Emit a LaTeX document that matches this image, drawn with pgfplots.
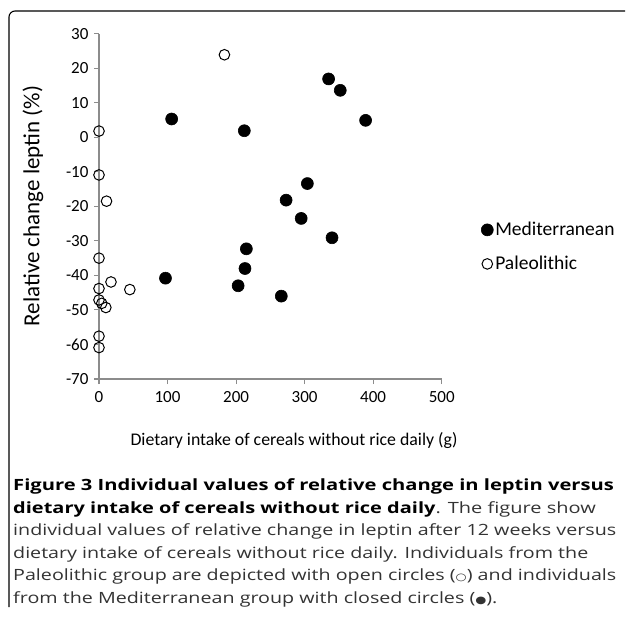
\documentclass[border=0pt]{standalone}
\usepackage{pgfplots}
\pgfplotsset{compat=1.18}
\usepackage{fontspec}
\setmainfont{Carlito}
\newfontfamily\capfont{Open Sans}
\newcommand{\cs}[2][1.27]{\scalebox{#1}[1]{#2}}
\begin{document}
\begin{tikzpicture}[x=1pt,y=1pt]
\path[use as bounding box] (0,0) rectangle (625,-627);
\draw[line width=1.1pt] (9,-607) -- (9,-17) arc[start angle=180,end angle=90,radius=6] -- (625,-11);
\begin{axis}[
  at={(99pt,-379pt)}, anchor=south west,
  scale only axis, width=342.7pt, height=345.3pt,
  xmin=0, xmax=500, ymin=-70, ymax=30,
  axis lines=left,
  axis line style={draw=black!45, line width=1.3pt, -},
  xtick={0,100,...,500}, ytick={-70,-60,...,30},
  tick align=outside, major tick length=5pt,
  tick style={draw=black!45, line width=1.1pt},
  tick label style={font=\fontsize{17}{17}\selectfont},
  /pgf/number format/assume math mode=true,
  xticklabel style={yshift=-4pt},
  yticklabel style={xshift=-2pt},
  clip=false,
  xlabel={Dietary intake of cereals without rice daily (g)},
  ylabel={Relative change leptin (\%)},
  x label style={at={(axis description cs:0.569,-0.1767)}, anchor=center, font=\fontsize{17.8}{17.8}\selectfont},
  y label style={at={(axis description cs:-0.1926,0.501)}, anchor=center, font=\fontsize{23}{23}\selectfont},
  legend style={draw=none, fill=none, at={(axis description cs:1.115,0.46)}, anchor=north west,
    font=\fontsize{19.5}{19.5}\selectfont, row sep=15pt, inner sep=0pt,
    cells={anchor=west}},
  legend image code/.code={\draw[#1] plot coordinates {(6pt,0pt)};},
]
\addplot[only marks, mark=*, mark size=6pt, mark options={fill=black, draw=black, line width=0.6pt}]
coordinates {(106,5.3) (212,1.9) (304,-13.4) (273,-18.2) (295,-23.5) (335,16.9) (352,13.6) (389,4.9) (340,-29.1) (215,-32.3) (213,-38.0) (203,-43.0) (266,-46.0) (97,-40.8)};
\addlegendentry{Mediterranean}
\addplot[only marks, mark=o, mark size=5.3pt, mark options={fill=white, draw=black, line width=1pt}]
coordinates {(183,23.9) (0,1.8) (0,-10.9) (11,-18.5) (0,-35.0) (17.5,-41.9) (45,-44.1) (0,-43.8) (0,-47.1) (4,-48.1) (10,-49.3) (0,-57.6) (0,-60.9)};
\addlegendentry{Paleolithic}
\end{axis}
\begin{scope}[every node/.style={anchor=base west, inner sep=0pt, font=\capfont\fontsize{15.5}{15.5}\selectfont, text=black!80}]
\node[text=black] at (13,-490.5) {\cs[1.30]{\textbf{Figure 3 Individual values of relative change in leptin versus}}};
\node at (13,-513.1) {\cs[1.29]{\textcolor{black}{\textbf{dietary intake of cereals without rice daily}}. The figure show}};
\node at (13,-535.7) {\cs{individual values of relative change in leptin after 12 weeks versus}};
\node at (13,-558.3) {\cs{dietary intake of cereals without rice daily. Individuals from the}};
\node at (13,-580.9) {\cs{Paleolithic group are depicted with open circles ({\fontspec{DejaVu Sans}\fontsize{10}{10}\selectfont○}) and individuals}};
\node at (13,-603.5) {\cs{from the Mediterranean group with closed circles ({\fontspec{DejaVu Sans}\fontsize{10}{10}\selectfont●}).}};
\end{scope}
\end{tikzpicture}
\end{document}
